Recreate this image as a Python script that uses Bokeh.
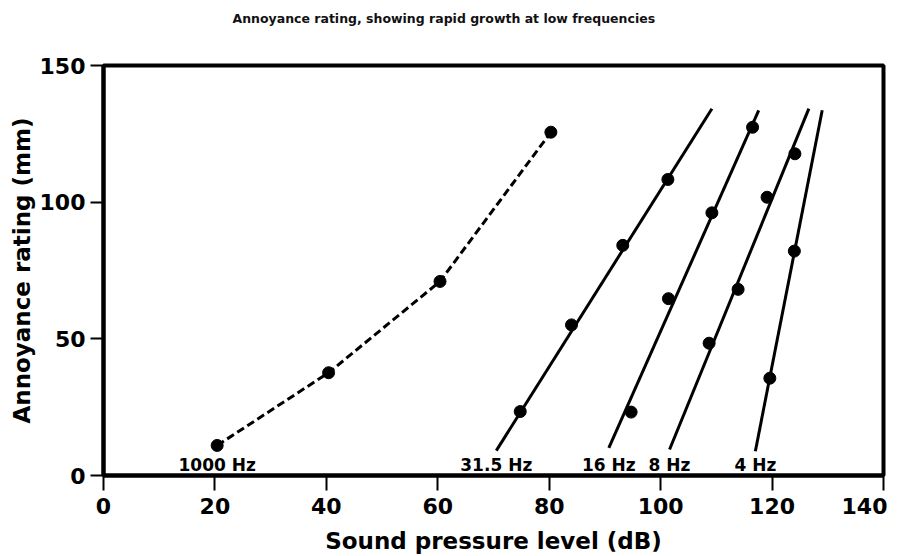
from bokeh.plotting import figure
from bokeh.models import Range1d, FixedTicker, ColumnDataSource, Title
from bokeh.embed import file_html
from bokeh.resources import INLINE
from bokeh.core.properties import value

# ---- data ----
x_1000 = [20.4, 40.4, 60.4, 80.3]
y_1000 = [11.0, 37.6, 71.0, 125.6]

x_31 = [74.8, 84.0, 93.2, 101.3]
y_31 = [23.4, 55.1, 84.2, 108.3]
fit_31_x = [70.5, 109.2]
fit_31_y = [9.1, 134.2]

x_16 = [94.7, 101.4, 109.2, 116.5]
y_16 = [23.2, 64.7, 96.1, 127.4]
fit_16_x = [90.7, 117.6]
fit_16_y = [10.1, 133.6]

x_8 = [108.7, 113.9, 119.1, 124.1]
y_8 = [48.4, 68.1, 101.8, 117.7]
fit_8_x = [101.6, 126.6]
fit_8_y = [9.5, 134.2]

x_4 = [119.6, 124.0]
y_4 = [35.6, 82.1]
fit_4_x = [117.0, 129.0]
fit_4_y = [8.9, 133.6]

series_names = ["1000 Hz", "31.5 Hz", "16 Hz", "8 Hz", "4 Hz"]
x_ticks = [0, 20, 40, 60, 80, 100, 120, 140]
y_ticks = [0, 50, 100, 150]
title_text = "Annoyance rating, showing rapid growth at low frequencies"

FONT = "DejaVu Sans"

p = figure(width=887, height=556, x_range=Range1d(0, 140), y_range=Range1d(0, 150),
           output_backend="svg", toolbar_location=None,
           min_border_left=103, min_border_right=4, min_border_top=0, min_border_bottom=81)

# spacer panel next to the frame, then the real title on top
p.add_layout(Title(text=" ", text_font=FONT, text_font_size="12.5px", standoff=15), "above")
p.add_layout(Title(text=title_text, text_font=FONT, text_font_size="12.5px",
                   text_font_style="bold", align="left", offset=129, standoff=16,
                   text_color="#111111"), "above")

p.xgrid.visible = False
p.ygrid.visible = False
p.outline_line_color = "black"
p.outline_line_width = 4
p.background_fill_color = "white"
p.border_fill_color = "white"

for ax in (p.xaxis[0], p.yaxis[0]):
    ax.axis_line_width = 4
    ax.axis_line_color = "black"
    ax.major_tick_line_width = 2
    ax.major_tick_line_color = "black"
    ax.major_tick_in = 0
    ax.minor_tick_line_color = None
    ax.major_label_text_font = FONT
    ax.major_label_text_font_style = "bold"
    ax.major_label_text_font_size = "22px"
    ax.major_label_text_color = "black"
    ax.axis_label_text_font = FONT
    ax.axis_label_text_font_style = "bold"
    ax.axis_label_text_font_size = "23px"
    ax.axis_label_text_color = "black"

p.xaxis.ticker = FixedTicker(ticks=x_ticks)
p.yaxis.ticker = FixedTicker(ticks=y_ticks)
p.xaxis.major_tick_out = 15
p.yaxis.major_tick_out = 13
p.xaxis.major_label_standoff = 7
p.yaxis.major_label_standoff = 5
p.xaxis.axis_label = "Sound pressure level (dB)"
p.yaxis.axis_label = "Annoyance rating (mm)"
p.xaxis.axis_label_standoff = 11
p.yaxis.axis_label_standoff = 2

# 1000 Hz dashed curve
p.line(x_1000, y_1000, line_color="black", line_width=3, line_dash="8 4")
p.scatter(x_1000, y_1000, size=12, fill_color="black", line_color="black")

# regression lines and data points
for fx, fy, xs, ys in [(fit_31_x, fit_31_y, x_31, y_31), (fit_16_x, fit_16_y, x_16, y_16),
                       (fit_8_x, fit_8_y, x_8, y_8), (fit_4_x, fit_4_y, x_4, y_4)]:
    p.line(fx, fy, line_color="black", line_width=3)
    p.scatter(xs, ys, size=12, fill_color="black", line_color="black")

# series labels placed under the start of each curve
label_x = [x_1000[0], fit_31_x[0], fit_16_x[0], fit_8_x[0], fit_4_x[0]]
src = ColumnDataSource(dict(x=label_x, y=[0] * 5, t=series_names))
p.text("x", "y", text="t", source=src, text_font=value(FONT), text_font_style="bold",
       text_font_size="17px", text_align="center", text_baseline="middle",
       y_offset=-11, text_color="black")

open("out.html", "w").write(file_html(p, INLINE))
